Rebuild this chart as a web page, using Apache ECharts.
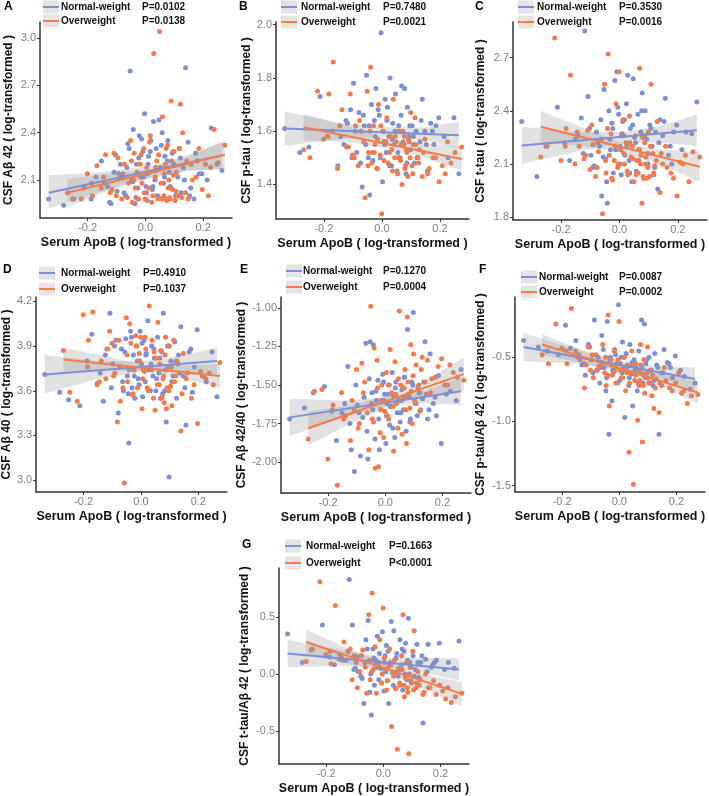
<!DOCTYPE html>
<html>
<head>
<meta charset="utf-8">
<script src="https://cdn.jsdelivr.net/npm/echarts@6/dist/echarts.min.js"></script>
<style>
  html, body { margin: 0; padding: 0; background: #fff; }
  #chart { width: 709px; height: 796px; }
</style>
</head>
<body>
<div id="chart"></div>
<script>
// Serum ApoB (log) of each subject, shared by every panel.
var xNormal = [-0.335, -0.283, -0.252, -0.213, -0.188, -0.171, -0.152, -0.131, -0.119, -0.108,
  -0.098, -0.087, -0.079, -0.068, -0.061, -0.053, -0.047, -0.042, -0.036, -0.031,
  -0.026, -0.021, -0.016, -0.009, -0.003, 0.002, 0.006, 0.011, 0.015, 0.019,
  0.024, 0.028, 0.033, 0.037, 0.042, 0.047, 0.052, 0.058, 0.063, 0.068,
  0.073, 0.078, 0.083, 0.088, 0.093, 0.098, 0.104, 0.112, 0.118, 0.124,
  0.131, 0.139, 0.148, 0.157, 0.168, 0.179, 0.196, 0.228, 0.248, 0.265,
  -0.142, -0.124, -0.103, -0.092, -0.074, -0.064, -0.056, -0.044, -0.033, -0.023,
  -0.013, -0.006, 0.004, 0.009, 0.017, 0.026, 0.035, 0.045, 0.055, 0.066,
  0.076, 0.086, 0.096, 0.108, 0.121, 0.135, 0.153, 0.174, 0.186, 0.214];
var xOver = [-0.27, -0.248, -0.222, -0.201, -0.183, -0.168, -0.153, -0.138, -0.122, -0.109,
  -0.101, -0.091, -0.082, -0.072, -0.058, -0.051, -0.046, -0.039, -0.035, -0.029,
  -0.024, -0.018, -0.012, -0.006, -0.001, 0.004, 0.012, 0.017, 0.022, 0.029,
  0.034, 0.039, 0.044, 0.049, 0.054, 0.059, 0.064, 0.069, 0.074, 0.077,
  0.081, 0.086, 0.089, 0.094, 0.099, 0.103, 0.108, 0.114, 0.121, 0.129,
  0.139, 0.148, 0.158, 0.176, 0.197, 0.208, 0.226, 0.238, 0.252, 0.275,
  -0.186, -0.145, -0.116, -0.095, -0.077, -0.063, -0.048, -0.041, -0.027, -0.015,
  -0.004, 0.007, 0.014, 0.026, 0.036, 0.046, 0.057, 0.066, 0.072, 0.079,
  0.084, 0.091, 0.097, 0.106, 0.117, 0.126, 0.143, 0.163, 0.185, 0.218];

// A: CSF Abeta42
var yA_normal = [1.98, 1.94, 1.98, 2.05, 1.98, 2.12, 2.22, 2.06, 1.95, 2.15,
  2.03, 2.2, 2.12, 2.0, 2.33, 2.79, 2.1, 2.42, 1.95, 2.2,
  2.05, 2.38, 2.12, 2.28, 2.52, 2.06, 1.97, 2.25, 2.15, 2.35,
  2.04, 2.47, 2.1, 2.3, 2.0, 2.48, 2.18, 2.4, 2.08, 2.25,
  1.98, 2.35, 2.15, 2.05, 2.27, 2.2, 2.0, 2.12, 2.3, 2.02,
  2.18, 2.81, 2.34, 2.05, 1.98, 2.22, 2.14, 2.43, 2.2, 2.16,
  2.08, 1.96, 2.26, 2.14, 2.02, 2.18, 2.3, 2.09, 1.99, 2.24,
  2.36, 2.12, 2.02, 2.2, 2.28, 2.06, 2.16, 1.99, 2.32, 2.12,
  2.22, 2.06, 2.28, 2.15, 2.24, 2.1, 2.0, 2.27, 2.14, 2.1];
var yA_over = [2.02, 1.98, 1.98, 2.14, 2.0, 2.19, 2.05, 2.26, 2.02, 2.27,
  2.0, 2.11, 1.98, 2.2, 2.08, 2.35, 1.96, 2.27, 2.05, 2.15,
  1.98, 2.2, 2.08, 2.3, 1.98, 2.18, 2.05, 2.38, 1.96, 2.9,
  2.12, 2.22, 1.98, 3.04, 2.08, 2.5, 2.0, 2.2, 1.97, 2.32,
  2.1, 1.98, 2.6, 2.04, 2.28, 1.97, 2.15, 2.0, 2.58, 2.4,
  2.02, 1.98, 2.2, 2.12, 2.04, 2.2, 2.18, 2.42, 2.21, 2.32,
  2.08, 2.12, 2.04, 2.24, 2.14, 1.99, 2.22, 2.1, 1.98, 2.26,
  2.02, 2.14, 2.34, 2.0, 2.18, 2.26, 1.98, 2.14, 2.3, 2.05,
  1.99, 2.22, 2.13, 2.03, 2.3, 1.99, 2.22, 2.1, 2.3, 2.0];

// B: CSF p-tau
var yB_normal = [1.61, 1.52, 1.54, 1.73, 1.58, 1.6, 1.47, 1.55, 1.63, 1.68,
  1.78, 1.52, 1.67, 1.39, 1.62, 1.81, 1.5, 1.36, 1.7, 1.49,
  1.64, 1.76, 1.46, 1.66, 1.97, 1.41, 1.56, 1.72, 1.52, 1.69,
  1.58, 1.8, 1.47, 1.63, 1.55, 1.74, 1.45, 1.62, 1.5, 1.77,
  1.56, 1.76, 1.44, 1.69, 1.58, 1.53, 1.62, 1.48, 1.6, 1.5,
  1.56, 1.72, 1.6, 1.45, 1.63, 1.55, 1.65, 1.5, 1.65, 1.44,
  1.58, 1.64, 1.5, 1.6, 1.48, 1.66, 1.55, 1.62, 1.52, 1.58,
  1.68, 1.5, 1.6, 1.55, 1.64, 1.47, 1.57, 1.6, 1.52, 1.66,
  1.55, 1.48, 1.62, 1.58, 1.5, 1.64, 1.55, 1.6, 1.62, 1.58];
var yB_over = [1.53, 1.5, 1.75, 1.57, 1.74, 1.86, 1.46, 1.68, 1.54, 1.74,
  1.51, 1.62, 1.47, 1.6, 1.35, 1.75, 1.52, 1.84, 1.48, 1.62,
  1.55, 1.46, 1.7, 1.51, 1.29, 1.6, 1.56, 1.65, 1.48, 1.58,
  1.53, 1.72, 1.5, 1.56, 1.44, 1.6, 1.49, 1.4, 1.55, 1.58,
  1.47, 1.52, 1.43, 1.56, 1.67, 1.47, 1.55, 1.65, 1.5, 1.53,
  1.43, 1.57, 1.44, 1.5, 1.41, 1.47, 1.56, 1.48, 1.52, 1.54,
  1.58, 1.62, 1.54, 1.5, 1.64, 1.56, 1.47, 1.6, 1.52, 1.57,
  1.62, 1.49, 1.56, 1.52, 1.45, 1.58, 1.5, 1.55, 1.6, 1.46,
  1.53, 1.57, 1.5, 1.44, 1.55, 1.48, 1.52, 1.46, 1.5, 1.44];

// C: CSF t-tau
var yC_normal = [2.34, 2.03, 2.2, 2.42, 2.22, 2.12, 2.24, 2.36, 2.85, 2.48,
  2.15, 2.09, 2.28, 2.2, 1.92, 2.52, 2.13, 1.88, 2.4, 2.18,
  2.33, 2.05, 2.57, 2.62, 2.38, 2.2, 2.04, 2.34, 2.26, 2.15,
  2.44, 2.6, 2.12, 2.3, 2.0, 2.58, 2.25, 2.06, 2.38, 2.18,
  2.28, 2.5, 2.02, 2.4, 2.24, 2.1, 2.32, 2.2, 2.04, 2.28,
  1.96, 2.35, 2.26, 2.47, 2.15, 2.1, 2.32, 2.28, 2.27, 2.45,
  2.26, 2.16, 2.3, 2.08, 2.22, 2.35, 2.14, 2.0, 2.24, 2.3,
  2.18, 2.42, 2.1, 2.27, 2.35, 2.2, 2.05, 2.32, 2.22, 2.12,
  2.4, 2.26, 2.16, 2.3, 2.08, 2.22, 2.34, 2.2, 2.28, 2.18];
var yC_over = [2.14, 2.2, 2.81, 2.12, 2.3, 2.6, 2.1, 2.2, 2.13, 2.29,
  2.07, 2.21, 2.03, 2.17, 1.82, 2.55, 2.05, 2.72, 2.15, 2.27,
  2.01, 2.12, 2.44, 2.08, 2.62, 2.18, 2.35, 2.1, 2.22, 2.04,
  2.37, 2.14, 2.2, 2.0, 2.26, 2.12, 2.05, 2.64, 2.15, 1.88,
  2.03, 2.22, 2.1, 2.02, 2.28, 2.03, 2.55, 2.16, 2.09, 2.34,
  1.94, 2.1, 2.2, 2.05, 1.92, 2.11, 2.15, 2.0, 2.17, 2.14,
  2.2, 2.28, 2.15, 2.32, 2.08, 2.24, 2.12, 2.3, 2.02, 2.2,
  2.1, 2.26, 2.16, 2.06, 2.22, 2.13, 2.04, 2.18, 2.1, 2.25,
  2.02, 2.14, 2.08, 2.2, 2.05, 2.12, 2.16, 2.08, 2.02, 2.1];

// D: CSF Abeta40
var yD_normal = [3.71, 3.59, 3.54, 3.5, 3.8, 3.98, 3.65, 3.53, 3.88, 4.12,
  3.78, 3.94, 3.45, 3.88, 3.6, 3.95, 3.7, 3.25, 4.0, 3.62,
  3.84, 3.55, 3.9, 3.68, 4.0, 3.78, 3.56, 3.94, 3.66, 3.85,
  4.07, 3.74, 3.6, 3.9, 3.7, 3.82, 3.6, 3.96, 3.72, 3.55,
  3.86, 4.12, 3.6, 3.39, 3.9, 3.02, 3.8, 3.7, 3.93, 3.55,
  3.84, 4.03, 3.7, 3.37, 3.86, 3.59, 4.01, 3.66, 3.86, 3.56,
  3.72, 3.84, 3.62, 3.9, 3.76, 3.66, 3.86, 3.58, 3.96, 3.7,
  3.8, 3.64, 3.92, 3.74, 3.84, 3.6, 3.78, 3.88, 3.68, 3.82,
  3.58, 3.74, 3.9, 3.66, 3.8, 3.72, 3.62, 3.88, 3.76, 3.7];
var yD_over = [3.87, 3.59, 3.53, 4.11, 3.94, 4.13, 3.64, 3.8, 3.68, 4.0,
  3.92, 3.72, 3.39, 3.53, 2.98, 4.09, 3.66, 4.05, 3.92, 3.57,
  3.74, 3.97, 3.62, 3.85, 3.96, 3.48, 3.73, 3.88, 3.62, 4.17,
  3.76, 3.94, 3.55, 3.47, 3.82, 4.06, 3.64, 3.87, 3.56, 3.68,
  3.52, 3.96, 3.48, 3.76, 3.9, 3.63, 3.5, 3.94, 3.7, 3.78,
  3.33, 3.85, 3.68, 3.55, 3.38, 3.73, 3.68, 3.72, 3.64, 3.79,
  3.76, 3.66, 3.88, 3.7, 3.94, 3.62, 3.84, 3.74, 3.58, 3.9,
  3.8, 3.68, 3.96, 3.6, 3.74, 3.86, 3.64, 3.78, 3.55, 3.7,
  3.84, 3.62, 3.6, 3.76, 3.66, 3.8, 3.58, 3.72, 3.64, 3.7];

// E: CSF Abeta42/40
var yE_normal = [-1.72, -1.65, -1.55, -1.51, -1.67, -1.86, -1.68, -1.38, -1.92, -2.06,
  -1.63, -1.96, -1.71, -1.23, -1.98, -1.22, -1.55, -1.24, -1.85, -1.6,
  -1.47, -1.92, -1.66, -1.43, -1.56, -1.88, -1.62, -1.5, -1.76, -1.64,
  -1.42, -1.57, -1.84, -1.48, -1.68, -1.6, -1.74, -1.53, -1.66, -1.45,
  -1.8, -1.14, -1.58, -1.72, -1.48, -1.03, -1.62, -1.7, -1.55, -1.66,
  -1.59, -1.22, -1.72, -1.3, -1.62, -1.7, -1.88, -1.54, -1.6, -1.4,
  -1.62, -1.75, -1.5, -1.68, -1.58, -1.8, -1.46, -1.66, -1.54, -1.72,
  -1.6, -1.48, -1.7, -1.56, -1.64, -1.78, -1.52, -1.6, -1.68, -1.45,
  -1.57, -1.74, -1.5, -1.62, -1.55, -1.48, -1.66, -1.58, -1.44, -1.56];
var yE_over = [-1.85, -1.54, -1.53, -1.98, -1.63, -2.15, -1.55, -1.7, -1.86, -1.66,
  -1.4, -1.75, -1.36, -1.48, -1.92, -0.99, -1.72, -1.26, -2.04, -1.34,
  -2.03, -1.81, -1.5, -1.84, -1.67, -1.42, -1.72, -1.27, -1.55, -1.93,
  -1.35, -1.62, -1.78, -1.02, -1.5, -1.82, -1.58, -1.4, -1.88, -1.06,
  -1.56, -1.65, -1.24, -1.75, -1.3, -1.6, -1.37, -1.52, -1.67, -1.32,
  -1.48, -1.34, -1.55, -1.45, -1.33, -1.5, -1.37, -1.42, -1.45, -1.47,
  -1.66, -1.72, -1.6, -1.78, -1.55, -1.68, -1.62, -1.74, -1.52, -1.66,
  -1.6, -1.7, -1.5, -1.64, -1.56, -1.46, -1.6, -1.52, -1.66, -1.48,
  -1.58, -1.54, -1.44, -1.62, -1.5, -1.4, -1.56, -1.46, -1.38, -1.5];

// F: CSF p-tau/Abeta42
var yF_normal = [-0.37, -0.42, -0.45, -0.48, -0.25, -0.43, -0.37, -0.56, -0.64, -0.4,
  -0.52, -0.21, -0.6, -0.7, -0.33, -0.58, -0.76, -0.22, -1.1, -0.5,
  -0.84, -0.62, -0.44, -0.55, -0.09, -0.68, -0.5, -0.38, -0.6, -0.97,
  -0.47, -0.56, -0.72, -0.4, -0.63, -0.88, -0.52, -0.58, -0.76, -0.45,
  -0.62, -0.21, -0.7, -0.24, -0.55, -0.66, -0.5, -0.6, -0.72, -0.47,
  -0.56, -1.1, -0.62, -0.44, -0.54, -0.58, -0.49, -0.65, -0.75, -0.7,
  -0.48, -0.55, -0.42, -0.62, -0.5, -0.58, -0.44, -0.66, -0.52, -0.6,
  -0.48, -0.7, -0.55, -0.62, -0.5, -0.58, -0.66, -0.54, -0.6, -0.7,
  -0.56, -0.64, -0.52, -0.6, -0.68, -0.58, -0.62, -0.55, -0.66, -0.6];
var yF_over = [-0.48, -0.55, -0.24, -0.43, -0.55, -0.12, -0.45, -0.52, -0.74, -0.42,
  -0.6, -0.66, -0.48, -0.57, -0.4, -0.62, -0.72, -0.17, -0.88, -0.52,
  -0.64, -0.45, -0.7, -0.55, -0.22, -0.6, -0.66, -0.5, -0.76, -0.57,
  -1.24, -0.62, -0.45, -1.49, -0.68, -0.55, -0.99, -0.72, -0.4, -0.62,
  -1.16, -0.52, -0.78, -0.66, -0.42, -0.7, -0.6, -0.8, -0.9, -0.67,
  -0.93, -0.72, -0.58, -0.74, -0.7, -0.62, -0.76, -0.86, -0.8, -0.79,
  -0.45, -0.5, -0.56, -0.48, -0.6, -0.54, -0.5, -0.64, -0.56, -0.6,
  -0.52, -0.66, -0.58, -0.62, -0.7, -0.56, -0.64, -0.6, -0.68, -0.58,
  -0.72, -0.66, -0.62, -0.7, -0.64, -0.74, -0.7, -0.68, -0.76, -0.78];

// G: CSF t-tau/Abeta42
var yG_normal = [0.35, 0.1, 0.21, 0.43, 0.15, 0.08, 0.17, 0.12, 0.83, 0.43,
  0.05, 0.02, -0.02, -0.26, 0.3, 0.47, -0.16, -0.36, 0.22, -0.1,
  0.12, 0.33, -0.05, 0.05, 0.37, -0.15, 0.16, 0.25, -0.06, -0.26,
  0.1, 0.46, 0.02, 0.38, -0.12, 0.18, -0.02, 0.3, 0.08, -0.14,
  0.2, 0.27, -0.05, 0.49, 0.1, -0.08, 0.16, 0.04, 0.26, -0.03,
  0.1, -0.43, 0.13, 0.26, 0.06, 0.1, 0.27, 0.1, 0.05, 0.29,
  0.12, 0.2, 0.04, 0.15, -0.04, 0.1, 0.22, 0.0, 0.14, 0.06,
  0.18, -0.08, 0.1, 0.02, 0.2, 0.08, -0.1, 0.14, 0.04, 0.22,
  0.0, 0.12, 0.06, -0.02, 0.1, 0.16, 0.02, 0.08, 0.12, 0.04];
var yG_over = [0.11, 0.22, 0.81, 0.17, 0.09, 0.6, 0.13, 0.28, 0.2, -0.05,
  0.16, -0.12, 0.02, 0.21, -0.17, 0.52, -0.05, 0.71, 0.04, 0.24,
  -0.17, 0.08, 0.3, -0.08, 0.58, 0.14, -0.14, 0.06, 0.22, -0.46,
  0.0, 0.12, -0.13, -0.66, 0.05, -0.1, 0.16, 0.52, -0.2, -0.02,
  0.1, -0.16, -0.7, 0.06, -0.08, 0.2, 0.38, -0.12, 0.02, -0.05,
  -0.18, 0.0, -0.12, -0.06, -0.1, -0.15, -0.12, -0.25, -0.2, -0.17,
  0.2, 0.14, 0.22, 0.1, 0.16, 0.06, 0.12, 0.02, 0.08, 0.1,
  0.0, 0.04, -0.06, 0.08, -0.02, 0.02, -0.08, 0.04, -0.1, -0.04,
  -0.12, 0.0, -0.06, -0.14, -0.08, -0.1, -0.16, -0.12, -0.18, -0.22];

// fitted lines (end points) and 95% bands [x, lower, upper]
var fitA_normal = [[-0.335, 2.02], [0.265, 2.255]];
var fitA_over = [[-0.27, 2.02], [0.275, 2.26]];
var bandA_normal = [[-0.335, 1.92, 2.13], [-0.15, 2.03, 2.15], [0.02, 2.12, 2.19], [0.15, 2.16, 2.26], [0.265, 2.17, 2.34]];
var bandA_over = [[-0.27, 1.93, 2.11], [-0.12, 2.04, 2.14], [0.02, 2.11, 2.17], [0.15, 2.16, 2.25], [0.275, 2.17, 2.35]];

var fitB_normal = [[-0.335, 1.61], [0.265, 1.585]];
var fitB_over = [[-0.27, 1.615], [0.275, 1.495]];
var bandB_normal = [[-0.335, 1.545, 1.675], [-0.15, 1.57, 1.63], [0.02, 1.58, 1.615], [0.15, 1.565, 1.615], [0.265, 1.535, 1.635]];
var bandB_over = [[-0.27, 1.565, 1.665], [-0.12, 1.56, 1.62], [0.02, 1.535, 1.57], [0.15, 1.5, 1.555], [0.275, 1.45, 1.54]];

var fitC_normal = [[-0.335, 2.205], [0.265, 2.29]];
var fitC_over = [[-0.27, 2.31], [0.275, 2.085]];
var bandC_normal = [[-0.335, 2.1, 2.31], [-0.15, 2.17, 2.28], [0.02, 2.22, 2.28], [0.15, 2.22, 2.32], [0.265, 2.2, 2.38]];
var bandC_over = [[-0.27, 2.22, 2.4], [-0.12, 2.2, 2.3], [0.02, 2.16, 2.21], [0.15, 2.09, 2.18], [0.275, 2.0, 2.17]];

var fitD_normal = [[-0.335, 3.71], [0.265, 3.8]];
var fitD_over = [[-0.27, 3.81], [0.275, 3.7]];
var bandD_normal = [[-0.335, 3.58, 3.84], [-0.15, 3.68, 3.8], [0.02, 3.73, 3.8], [0.15, 3.72, 3.84], [0.265, 3.71, 3.89]];
var bandD_over = [[-0.27, 3.73, 3.89], [-0.12, 3.74, 3.83], [0.02, 3.73, 3.77], [0.15, 3.68, 3.77], [0.275, 3.62, 3.78]];

var fitE_normal = [[-0.335, -1.71], [0.265, -1.54]];
var fitE_over = [[-0.27, -1.78], [0.275, -1.43]];
var bandE_normal = [[-0.335, -1.83, -1.59], [-0.15, -1.71, -1.6], [0.02, -1.63, -1.58], [0.15, -1.62, -1.53], [0.265, -1.63, -1.45]];
var bandE_over = [[-0.27, -1.89, -1.67], [-0.12, -1.75, -1.63], [0.02, -1.63, -1.56], [0.15, -1.56, -1.46], [0.275, -1.54, -1.32]];

var fitF_normal = [[-0.335, -0.42], [0.265, -0.67]];
var fitF_over = [[-0.27, -0.4], [0.275, -0.775]];
var bandF_normal = [[-0.335, -0.53, -0.31], [-0.15, -0.55, -0.44], [0.02, -0.6, -0.54], [0.15, -0.67, -0.57], [0.265, -0.76, -0.58]];
var bandF_over = [[-0.27, -0.48, -0.32], [-0.12, -0.55, -0.45], [0.02, -0.62, -0.57], [0.15, -0.73, -0.63], [0.275, -0.86, -0.69]];

var fitG_normal = [[-0.335, 0.18], [0.265, 0.04]];
var fitG_over = [[-0.27, 0.28], [0.275, -0.175]];
var bandG_normal = [[-0.335, 0.06, 0.3], [-0.15, 0.07, 0.21], [0.02, 0.06, 0.14], [0.15, 0.01, 0.14], [0.265, -0.06, 0.14]];
var bandG_over = [[-0.27, 0.17, 0.39], [-0.12, 0.09, 0.22], [0.02, 0.0, 0.08], [0.15, -0.14, -0.01], [0.275, -0.28, -0.07]];

// tick labels
var xTicks = [-0.2, 0, 0.2];
var yTicksA = [2.1, 2.4, 2.7, 3.0];
var yTicksB = [1.4, 1.6, 1.8, 2.0];
var yTicksC = [1.8, 2.1, 2.4, 2.7];
var yTicksD = [3.0, 3.3, 3.6, 3.9, 4.2];
var yTicksE = [-2.0, -1.75, -1.5, -1.25, -1.0];
var yTicksF = [-1.5, -1.0, -0.5];
var yTicksG = [-0.5, 0, 0.5];

var groupNames = ['Normal-weight', 'Overweight'];
var pA = ['P=0.0102', 'P=0.0138'];
var pB = ['P=0.7480', 'P=0.0021'];
var pC = ['P=0.3530', 'P=0.0016'];
var pD = ['P=0.4910', 'P=0.1037'];
var pE = ['P=0.1270', 'P=0.0004'];
var pF = ['P=0.0087', 'P=0.0002'];
var pG = ['P=0.1663', 'P<0.0001'];

var xTitle = 'Serum ApoB ( log-transformed )';

var BLUE = '#7d8fd6';
var ORANGE = '#f97a47';
var FONT = '"Liberation Sans", Arial, sans-serif';

var panels = [
  { letter: 'A', pos: [40, 22, 192, 196], y: [1.86, 3.1], ticks: yTicksA, dec: 1, gap: 25,
    title: 'CSF A\u03b2 42 ( log-transformed )', normal: yA_normal, over: yA_over,
    fit: [fitA_normal, fitA_over], band: [bandA_normal, bandA_over], p: pA,
    leg: { key: 43, text: 61, p: 142, rows: [7, 21] }, lpos: [4, 7] },
  { letter: 'B', pos: [276, 22, 193, 197], y: [1.27, 2.01], ticks: yTicksB, dec: 1, gap: 23,
    title: 'CSF p-tau ( log-transformed )', normal: yB_normal, over: yB_over,
    fit: [fitB_normal, fitB_over], band: [bandB_normal, bandB_over], p: pB,
    leg: { key: 281, text: 301, p: 383, rows: [7, 22] }, lpos: [239, 7] },
  { letter: 'C', pos: [513, 22, 194, 198], y: [1.785, 2.9], ticks: yTicksC, dec: 1, gap: 26,
    title: 'CSF t-tau ( log-transformed )', normal: yC_normal, over: yC_over,
    fit: [fitC_normal, fitC_over], band: [bandC_normal, bandC_over], p: pC,
    leg: { key: 518, text: 537, p: 619, rows: [7, 22] }, lpos: [475, 7] },
  { letter: 'D', pos: [32, 297, 195, 195], y: [2.92, 4.23], ticks: yTicksD, dec: 1, gap: 20,
    title: 'CSF A\u03b2 40 ( log-transformed )', normal: yD_normal, over: yD_over,
    fit: [fitD_normal, fitD_over], band: [bandD_normal, bandD_over], p: pD,
    leg: { key: 39, text: 61, p: 143, rows: [273, 289] }, lpos: [3, 270] },
  { letter: 'E', pos: [281, 297, 190, 196], y: [-2.2, -0.93], ticks: yTicksE, dec: 2, gap: 30,
    title: 'CSF A\u03b2 42/40 ( log-transformed )', normal: yE_normal, over: yE_over,
    fit: [fitE_normal, fitE_over], band: [bandE_normal, bandE_over], p: pE,
    leg: { key: 286, text: 303, p: 383, rows: [271, 287] }, lpos: [240, 270] },
  { letter: 'F', pos: [515, 297, 190, 195], y: [-1.55, -0.03], ticks: yTicksF, dec: 1, gap: 28,
    title: 'CSF p-tau/A\u03b2 42 ( log-transformed )', normal: yF_normal, over: yF_over,
    fit: [fitF_normal, fitF_over], band: [bandF_normal, bandF_over], p: pF,
    leg: { key: 521, text: 539, p: 619, rows: [277, 292] }, lpos: [479, 270] },
  { letter: 'G', pos: [279, 568, 190, 198], y: [-0.79, 0.93], ticks: yTicksG, dec: 1, gap: 28,
    title: 'CSF t-tau/A\u03b2 42 ( log-transformed )', normal: yG_normal, over: yG_over,
    fit: [fitG_normal, fitG_over], band: [bandG_normal, bandG_over], p: pG,
    leg: { key: 285, text: 306, p: 389, rows: [546, 563] }, lpos: [242, 545] }
];

var dom = document.getElementById('chart');
var myChart = echarts.init(dom, null, { renderer: 'canvas' });

var option = {
  animation: false,
  backgroundColor: '#fff',
  grid: [],
  xAxis: [],
  yAxis: [],
  series: [],
  graphic: []
};

function pairs(xs, ys) {
  return xs.map(function (x, k) {
    return [x, ys[k]];
  });
}

function bandSeries(i, band) {
  return {
    type: 'custom',
    xAxisIndex: i,
    yAxisIndex: i,
    silent: true,
    z: 3,
    data: band,
    encode: { x: 0, y: [1, 2] },
    renderItem: function (params, api) {
      if (params.dataIndex !== 0) return;
      var upper = band.map(function (b) { return api.coord([b[0], b[2]]); });
      var lower = band.map(function (b) { return api.coord([b[0], b[1]]); }).reverse();
      return {
        type: 'polygon',
        shape: { points: upper.concat(lower) },
        style: { fill: 'rgba(150,150,150,0.28)' }
      };
    }
  };
}

panels.forEach(function (pn, i) {
  option.grid.push({ left: pn.pos[0], top: pn.pos[1], width: pn.pos[2], height: pn.pos[3] });

  option.xAxis.push({
    gridIndex: i,
    type: 'value',
    min: -0.365,
    max: 0.3,
    splitLine: { show: false },
    axisLine: { onZero: false, lineStyle: { color: '#333', width: 1.5 } },
    axisTick: { customValues: xTicks, length: 3, lineStyle: { color: '#333' } },
    axisLabel: {
      customValues: xTicks, margin: 4, color: '#7f7f7f', fontSize: 11, fontFamily: FONT,
      formatter: function (v) { return v.toFixed(1); }
    },
    name: xTitle,
    nameLocation: 'middle',
    nameGap: 18,
    nameTextStyle: { color: '#111', fontWeight: 'bold', fontSize: 12.5, fontFamily: FONT }
  });

  option.yAxis.push({
    gridIndex: i,
    type: 'value',
    min: pn.y[0],
    max: pn.y[1],
    splitLine: { show: false },
    axisLine: { show: true, onZero: false, lineStyle: { color: '#333', width: 1.5 } },
    axisTick: { show: true, customValues: pn.ticks, length: 3, lineStyle: { color: '#333' } },
    axisLabel: {
      customValues: pn.ticks, margin: 4, color: '#7f7f7f', fontSize: 11, fontFamily: FONT,
      formatter: function (v) { return v.toFixed(pn.dec); }
    },
    name: pn.title,
    nameLocation: 'middle',
    nameGap: pn.gap,
    nameTextStyle: { color: '#111', fontWeight: 'bold', fontSize: 12, fontFamily: FONT }
  });

  [[xNormal, pn.normal, BLUE], [xOver, pn.over, ORANGE]].forEach(function (g) {
    option.series.push({
      type: 'scatter',
      xAxisIndex: i,
      yAxisIndex: i,
      symbolSize: 5,
      itemStyle: { color: g[2], opacity: 1 },
      silent: true,
      z: 2,
      data: pairs(g[0], g[1])
    });
  });

  [0, 1].forEach(function (k) {
    option.series.push(bandSeries(i, pn.band[k]));
  });
  [0, 1].forEach(function (k) {
    option.series.push({
      type: 'line',
      xAxisIndex: i,
      yAxisIndex: i,
      showSymbol: false,
      silent: true,
      z: 4,
      lineStyle: { color: k === 0 ? BLUE : ORANGE, width: 2 },
      data: pn.fit[k]
    });
  });

  // panel letter
  option.graphic.push({
    type: 'text', x: pn.lpos[0], y: pn.lpos[1],
    style: { text: pn.letter, font: 'bold 12px ' + FONT, fill: '#000', verticalAlign: 'middle' }
  });

  // legend rows
  pn.leg.rows.forEach(function (ry, k) {
    var col = k === 0 ? BLUE : ORANGE;
    option.graphic.push({
      type: 'rect', shape: { x: pn.leg.key, y: ry - 6.5, width: 16, height: 13 },
      style: { fill: '#e4e4e4' }
    });
    option.graphic.push({
      type: 'line', shape: { x1: pn.leg.key, y1: ry, x2: pn.leg.key + 16, y2: ry },
      style: { stroke: col, lineWidth: 2 }
    });
    option.graphic.push({
      type: 'text', x: pn.leg.text, y: ry,
      style: { text: groupNames[k], font: 'bold 10px ' + FONT, fill: '#111', verticalAlign: 'middle' }
    });
    option.graphic.push({
      type: 'text', x: pn.leg.p, y: ry,
      style: { text: pn.p[k], font: 'bold 10px ' + FONT, fill: '#111', verticalAlign: 'middle' }
    });
  });
});

myChart.setOption(option);
</script>
</body>
</html>
